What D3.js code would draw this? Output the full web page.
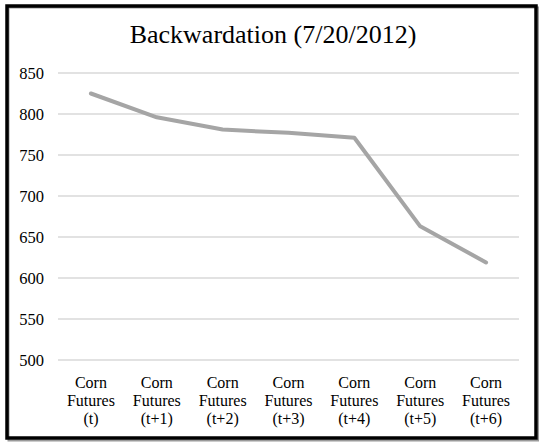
<!DOCTYPE html>
<html>
<head>
<meta charset="utf-8">
<script src="https://cdn.jsdelivr.net/npm/d3@7"></script>
<style>
  html, body { margin: 0; padding: 0; background: #fff; }
  svg { display: block; }
  svg text { font-family: "Liberation Serif", "Times New Roman", Times, serif !important; fill: #000; }
</style>
</head>
<body>
<svg id="chart" width="539" height="443"></svg>
<script>
// Corn futures settlement prices across contract months
const categories = ["(t)", "(t+1)", "(t+2)", "(t+3)", "(t+4)", "(t+5)", "(t+6)"];
const prices = [825, 796, 781, 777, 771, 663, 619];
const yTicks = [500, 550, 600, 650, 700, 750, 800, 850];
const title = "Backwardation (7/20/2012)";

const svg = d3.select("#chart");
const W = 539, H = 443;
const plot = { left: 58, right: 519, top: 73, bottom: 360 };

svg.append("rect").attr("width", W).attr("height", H).attr("fill", "#fff");

// outer frame with a light drop shadow
svg.append("rect")
  .attr("x", 8.5).attr("y", 7.5)
  .attr("width", 530).attr("height", 433)
  .attr("fill", "none").attr("stroke", "#9a9a9a").attr("stroke-width", 2);
svg.append("rect")
  .attr("x", 7).attr("y", 6)
  .attr("width", 529).attr("height", 432)
  .attr("fill", "none").attr("stroke", "#000").attr("stroke-width", 3.5);

const x = d3.scaleBand().domain(categories).range([plot.left, plot.right]).padding(0);
const y = d3.scaleLinear().domain([500, 850]).range([plot.bottom, plot.top]);

// horizontal gridlines
svg.append("g")
  .selectAll("line")
  .data(yTicks)
  .join("line")
  .attr("x1", plot.left).attr("x2", plot.right)
  .attr("y1", d => y(d)).attr("y2", d => y(d))
  .attr("stroke", "#d9d9d9").attr("stroke-width", 1.3);

// y axis labels
const yAxis = d3.axisLeft(y).tickValues(yTicks).tickSize(0).tickPadding(14);
const gy = svg.append("g").attr("transform", `translate(${plot.left},0)`).call(yAxis)
  .attr("font-family", null).attr("font-size", 16.5);
gy.select(".domain").remove();
gy.selectAll("text").attr("fill", "#000");

// x axis labels, three lines each
const xAxis = d3.axisBottom(x).tickSize(0).tickFormat("");
const gx = svg.append("g").attr("transform", `translate(0,${plot.bottom})`).call(xAxis)
  .attr("font-family", null).attr("font-size", 16);
gx.select(".domain").remove();
gx.selectAll(".tick").each(function (d) {
  const t = d3.select(this).append("text")
    .attr("text-anchor", "middle")
    .attr("fill", "#000");
  ["Corn", "Futures", d].forEach((s, i) => {
    t.append("tspan").attr("x", 0).attr("y", 28 + i * 18).text(s);
  });
});

// price line
const line = d3.line()
  .x((d, i) => x(categories[i]) + x.bandwidth() / 2)
  .y(d => y(d));
svg.append("path")
  .datum(prices)
  .attr("d", line)
  .attr("fill", "none")
  .attr("stroke", "#a5a5a5")
  .attr("stroke-width", 4)
  .attr("stroke-linejoin", "round")
  .attr("stroke-linecap", "round");

// title
svg.append("text")
  .attr("x", 273).attr("y", 43)
  .attr("text-anchor", "middle")
  .attr("font-size", 26)
  .text(title);
</script>
</body>
</html>
